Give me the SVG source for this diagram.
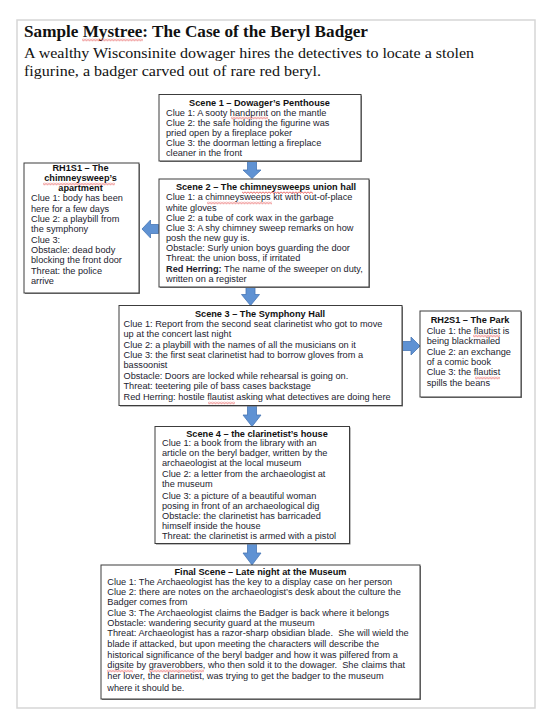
<svg xmlns="http://www.w3.org/2000/svg" width="550" height="715" viewBox="0 0 550 715">
<style>
.pg{fill:#fff;stroke:#d6d6d6;stroke-width:1.5}
.sh{fill:#7a7a7a}
.bx{fill:#fff;stroke:#3c3c3c;stroke-width:1}
.t{font-family:"Liberation Sans",Arial,sans-serif;font-size:9.2px;fill:#23232f}
.h{font-weight:bold;text-anchor:middle;fill:#111}
.b{font-weight:bold}
.ti{font-family:"Liberation Serif","Times New Roman",serif;fill:#111}
.ar{fill:#5f92d3;stroke:#4676b5;stroke-width:0.8}
</style>
<defs>
<pattern id="sq" width="3" height="3" patternUnits="userSpaceOnUse">
<path d="M0 0.6 L1.5 2.4 L3 0.6" fill="none" stroke="#e02020" stroke-width="0.7"/>
</pattern>
</defs>
<rect width="550" height="715" fill="#fff"/>
<rect class="pg" x="17" y="20" width="518" height="688"/>
<g id="title">
<text class="ti" x="24" y="37" font-size="16.5" font-weight="bold" textLength="344" lengthAdjust="spacingAndGlyphs">Sample Mystree: The Case of the Beryl Badger</text>
<text class="ti" x="24" y="58" font-size="15.5" textLength="450" lengthAdjust="spacingAndGlyphs">A wealthy Wisconsinite dowager hires the detectives to locate a stolen</text>
<text class="ti" x="24" y="75.5" font-size="15.5" textLength="297" lengthAdjust="spacingAndGlyphs">figurine, a badger carved out of rare red beryl.</text>
</g>
<g id="connectors">
<path class="ar" d="M247.5 161 H256.5 V170 H261 L252 178.5 L243 170 H247.5 Z"/>
<path class="ar" d="M158.5 224.5 V233.5 H150.5 V238 L142 229 L150.5 220 V224.5 Z"/>
<path class="ar" d="M246 287 H255 V294.5 H259.5 L250.5 305.5 L241.5 294.5 H246 Z"/>
<path class="ar" d="M402 341.5 H411 V337 L420 346 L411 355 V350.5 H402 Z"/>
<path class="ar" d="M247.5 406 H256.5 V415 H261 L252 426.5 L243 415 H247.5 Z"/>
<path class="ar" d="M247.5 544 H256.5 V553 H261 L252 565 L243 553 H247.5 Z"/>
</g>
<g id="scene1">
<rect class="sh" x="160" y="95.5" width="202" height="66.5"/>
<rect class="bx" x="159" y="94.5" width="202" height="66.5"/>
<text class="t h" x="259.5" y="106">Scene 1 – Dowager’s Penthouse</text>
<text class="t" x="166" y="115.8">Clue 1: A sooty handprint on the mantle</text>
<text class="t" x="166" y="126">Clue 2: the safe holding the figurine was</text>
<text class="t" x="166" y="136">pried open by a fireplace poker</text>
<text class="t" x="166" y="146">Clue 3: the doorman letting a fireplace</text>
<text class="t" x="166" y="156">cleaner in the front</text>
</g>
<g id="rh1s1">
<rect class="sh" x="25" y="164" width="115" height="130"/>
<rect class="bx" x="24" y="163" width="115" height="130"/>
<text class="t h" x="80.5" y="171">RH1S1 – The</text>
<text class="t h" x="80.5" y="181.3">chimneysweep’s</text>
<text class="t h" x="80.5" y="191.3">apartment</text>
<text class="t" x="31" y="201.3">Clue 1: body has been</text>
<text class="t" x="31" y="211.7">here for a few days</text>
<text class="t" x="31" y="222">Clue 2: a playbill from</text>
<text class="t" x="31" y="232.3">the symphony</text>
<text class="t" x="31" y="242.7">Clue 3:</text>
<text class="t" x="31" y="253">Obstacle: dead body</text>
<text class="t" x="31" y="263.3">blocking the front door</text>
<text class="t" x="31" y="273.7">Threat: the police</text>
<text class="t" x="31" y="284">arrive</text>
</g>
<g id="scene2">
<rect class="sh" x="160" y="180" width="210" height="108"/>
<rect class="bx" x="159" y="179" width="210" height="108"/>
<text class="t h" x="266" y="190">Scene 2 – The chimneysweeps union hall</text>
<text class="t" x="166" y="200.3">Clue 1: a chimneysweeps kit with out-of-place</text>
<text class="t" x="166" y="210.5">white gloves</text>
<text class="t" x="166" y="220.5">Clue 2: a tube of cork wax in the garbage</text>
<text class="t" x="166" y="230.5">Clue 3: A shy chimney sweep remarks on how</text>
<text class="t" x="166" y="240.5">posh the new guy is.</text>
<text class="t" x="166" y="251">Obstacle: Surly union boys guarding the door</text>
<text class="t" x="166" y="261">Threat: the union boss, if irritated</text>
<text class="t" x="166" y="271.5"><tspan class="b">Red Herring:</tspan> The name of the sweeper on duty,</text>
<text class="t" x="166" y="281.7">written on a register</text>
</g>
<g id="scene3">
<rect class="sh" x="120" y="306.5" width="283" height="100"/>
<rect class="bx" x="119" y="305.5" width="283" height="100"/>
<text class="t h" x="260" y="316.7">Scene 3 – The Symphony Hall</text>
<text class="t" x="123.5" y="327.3">Clue 1: Report from the second seat clarinetist who got to move</text>
<text class="t" x="123.5" y="337.3">up at the concert last night</text>
<text class="t" x="123.5" y="347.5">Clue 2: a playbill with the names of all the musicians on it</text>
<text class="t" x="123.5" y="358">Clue 3: the first seat clarinetist had to borrow gloves from a</text>
<text class="t" x="123.5" y="368">bassoonist</text>
<text class="t" x="123.5" y="379.3">Obstacle: Doors are locked while rehearsal is going on.</text>
<text class="t" x="123.5" y="389.3">Threat: teetering pile of bass cases backstage</text>
<text class="t" x="123.5" y="400">Red Herring: hostile flautist asking what detectives are doing here</text>
</g>
<g id="rh2s1">
<rect class="sh" x="421" y="312" width="101" height="86"/>
<rect class="bx" x="420" y="311" width="101" height="86"/>
<text class="t h" x="470" y="323.3">RH2S1 – The Park</text>
<text class="t" x="426.7" y="333.5">Clue 1: the flautist is</text>
<text class="t" x="426.7" y="344">being blackmailed</text>
<text class="t" x="426.7" y="354.5">Clue 2: an exchange</text>
<text class="t" x="426.7" y="365">of a comic book</text>
<text class="t" x="426.7" y="375.3">Clue 3: the flautist</text>
<text class="t" x="426.7" y="385.7">spills the beans</text>
</g>
<g id="scene4">
<rect class="sh" x="156" y="427.5" width="194.5" height="117"/>
<rect class="bx" x="155" y="426.5" width="194.5" height="117"/>
<text class="t h" x="257" y="436.5">Scene 4 – the clarinetist’s house</text>
<text class="t" x="162" y="446">Clue 1: a book from the library with an</text>
<text class="t" x="162" y="456">article on the beryl badger, written by the</text>
<text class="t" x="162" y="466">archaeologist at the local museum</text>
<text class="t" x="162" y="476.7">Clue 2: a letter from the archaeologist at</text>
<text class="t" x="162" y="486.7">the museum</text>
<text class="t" x="162" y="498.5">Clue 3: a picture of a beautiful woman</text>
<text class="t" x="162" y="508.5">posing in front of an archaeological dig</text>
<text class="t" x="162" y="519.3">Obstacle: the clarinetist has barricaded</text>
<text class="t" x="162" y="529.2">himself inside the house</text>
<text class="t" x="162" y="539">Threat: the clarinetist is armed with a pistol</text>
</g>
<g id="final">
<rect class="sh" x="102" y="566" width="319" height="134"/>
<rect class="bx" x="101" y="565" width="319" height="134"/>
<text class="t h" x="260.5" y="574.5">Final Scene – Late night at the Museum</text>
<text class="t" x="107.3" y="584.5">Clue 1: The Archaeologist has the key to a display case on her person</text>
<text class="t" x="107.3" y="594.5">Clue 2: there are notes on the archaeologist’s desk about the culture the</text>
<text class="t" x="107.3" y="605">Badger comes from</text>
<text class="t" x="107.3" y="615.7">Clue 3: The Archaeologist claims the Badger is back where it belongs</text>
<text class="t" x="107.3" y="626">Obstacle: wandering security guard at the museum</text>
<text class="t" x="107.3" y="636.3">Threat: Archaeologist has a razor-sharp obsidian blade.&#160; She will wield the</text>
<text class="t" x="107.3" y="647">blade if attacked, but upon meeting the characters will describe the</text>
<text class="t" x="107.3" y="657.5">historical significance of the beryl badger and how it was pilfered from a</text>
<text class="t" x="107.3" y="668">digsite by graverobbers, who then sold it to the dowager.&#160; She claims that</text>
<text class="t" x="107.3" y="678.5">her lover, the clarinetist, was trying to get the badger to the museum</text>
<text class="t" x="107.3" y="690.5">where it should be.</text>
</g>
<g id="spelling">
<g transform="translate(82,38.5)"><rect width="61" height="3" fill="url(#sq)"/></g>
<g transform="translate(231,116.5)"><rect width="37" height="3" fill="url(#sq)"/></g>
<g transform="translate(43,182.5)"><rect width="72" height="3" fill="url(#sq)"/></g>
<g transform="translate(242,191)"><rect width="71" height="3" fill="url(#sq)"/></g>
<g transform="translate(207,201.5)"><rect width="65" height="3" fill="url(#sq)"/></g>
<g transform="translate(208,401.5)"><rect width="27" height="3" fill="url(#sq)"/></g>
<g transform="translate(473,334.5)"><rect width="27" height="3" fill="url(#sq)"/></g>
<g transform="translate(475,376.5)"><rect width="25" height="3" fill="url(#sq)"/></g>
<g transform="translate(107,669.5)"><rect width="26" height="3" fill="url(#sq)"/></g>
<g transform="translate(149,669.5)"><rect width="55" height="3" fill="url(#sq)"/></g>
</g>
</svg>
